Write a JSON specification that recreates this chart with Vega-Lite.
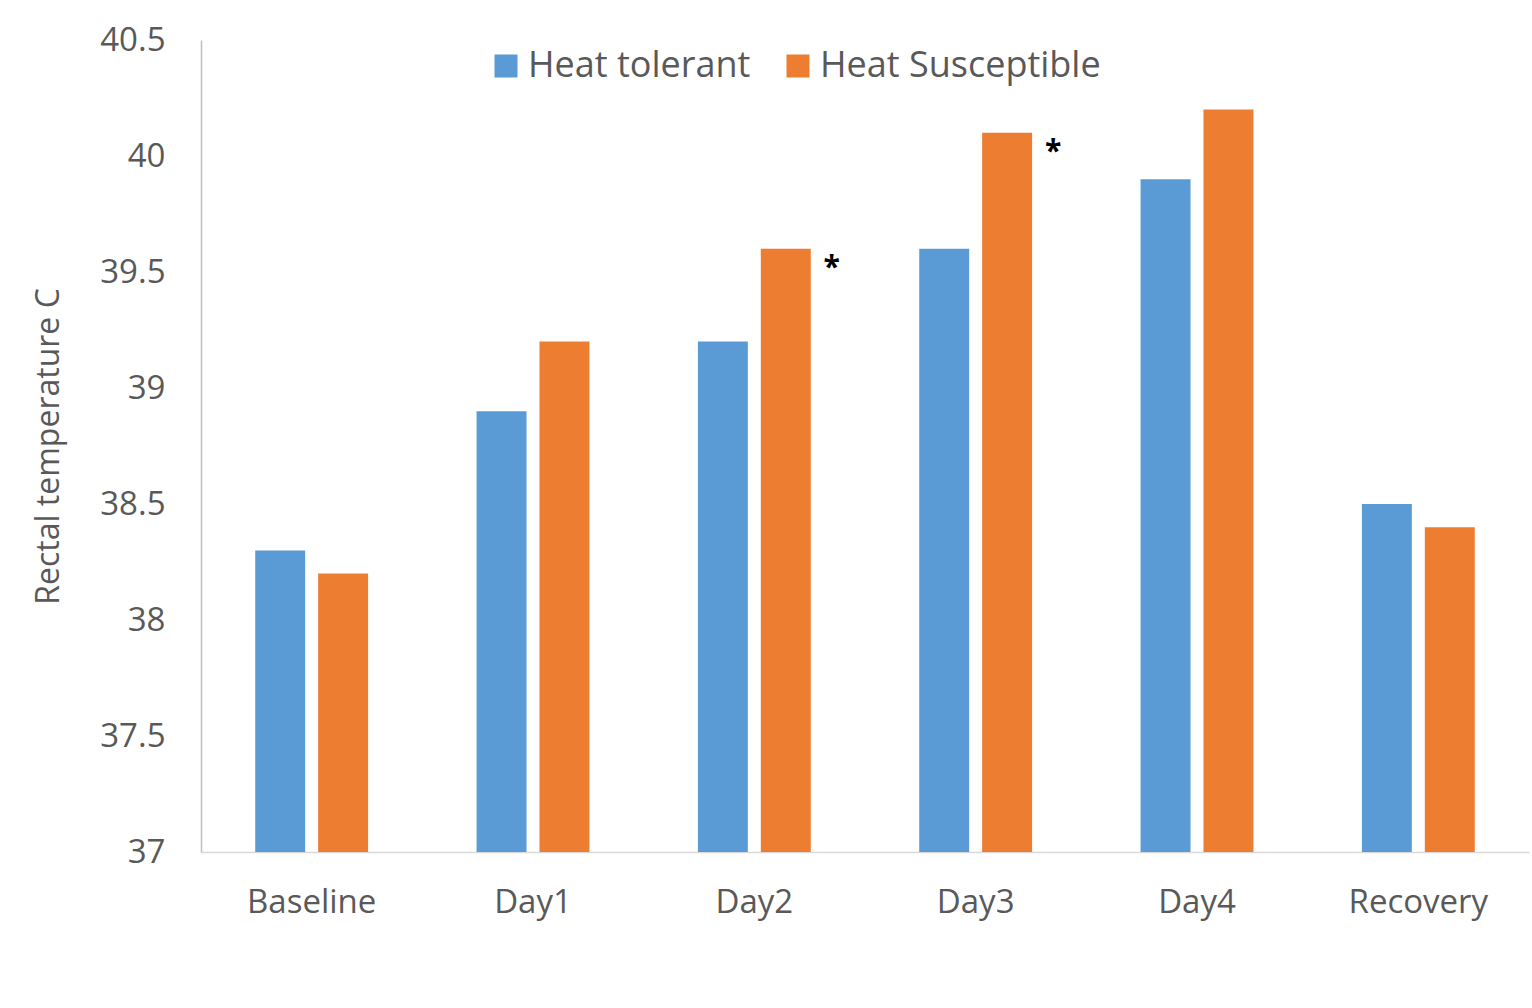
{
  "$schema": "https://vega.github.io/schema/vega-lite/v6.json",
  "width": 1328,
  "height": 812,
  "autosize": {"type": "none"},
  "padding": {"left": 201, "top": 40, "right": 3, "bottom": 156},
  "background": "white",
  "config": {"view": {"stroke": null}, "font": "Open Sans"},
  "data": {
    "values": [
      {"day": "Baseline", "group": "Heat tolerant", "value": 38.3, "sig": ""},
      {"day": "Baseline", "group": "Heat Susceptible", "value": 38.2, "sig": ""},
      {"day": "Day1", "group": "Heat tolerant", "value": 38.9, "sig": ""},
      {"day": "Day1", "group": "Heat Susceptible", "value": 39.2, "sig": ""},
      {"day": "Day2", "group": "Heat tolerant", "value": 39.2, "sig": ""},
      {"day": "Day2", "group": "Heat Susceptible", "value": 39.6, "sig": "*"},
      {"day": "Day3", "group": "Heat tolerant", "value": 39.6, "sig": ""},
      {"day": "Day3", "group": "Heat Susceptible", "value": 40.1, "sig": "*"},
      {"day": "Day4", "group": "Heat tolerant", "value": 39.9, "sig": ""},
      {"day": "Day4", "group": "Heat Susceptible", "value": 40.2, "sig": ""},
      {"day": "Recovery", "group": "Heat tolerant", "value": 38.5, "sig": ""},
      {"day": "Recovery", "group": "Heat Susceptible", "value": 38.4, "sig": ""}
    ]
  },
  "encoding": {
    "x": {
      "field": "day",
      "type": "nominal",
      "sort": ["Baseline", "Day1", "Day2", "Day3", "Day4", "Recovery"],
      "scale": {"paddingInner": 0.49, "paddingOuter": 0.245},
      "axis": {
        "title": null,
        "labelAngle": 0,
        "labelFontSize": 33,
        "labelColor": "#595959",
        "labelPadding": 34,
        "ticks": false,
        "domainColor": "#D9D9D9",
        "domainWidth": 1.5,
        "grid": false
      }
    },
    "xOffset": {
      "field": "group",
      "type": "nominal",
      "sort": ["Heat tolerant", "Heat Susceptible"],
      "scale": {"paddingInner": 0.206}
    },
    "y": {
      "field": "value",
      "type": "quantitative",
      "scale": {"domain": [37, 40.5], "zero": false, "nice": false},
      "axis": {
        "title": "Rectal temperature C",
        "titleFontSize": 32,
        "titleFontWeight": "normal",
        "titleColor": "#595959",
        "titlePadding": 34,
        "values": [37, 37.5, 38, 38.5, 39, 39.5, 40, 40.5],
        "format": "~g",
        "labelFontSize": 33,
        "labelColor": "#595959",
        "labelPadding": 36,
        "ticks": false,
        "grid": false,
        "domainColor": "#BFBFBF",
        "domainWidth": 1.5
      }
    }
  },
  "layer": [
    {
      "mark": {"type": "bar", "clip": true},
      "encoding": {
        "y2": {"datum": 37},
        "color": {
          "field": "group",
          "type": "nominal",
          "sort": ["Heat tolerant", "Heat Susceptible"],
          "scale": {"domain": ["Heat tolerant", "Heat Susceptible"], "range": ["#5B9BD5", "#ED7D31"]},
          "legend": {
            "title": null,
            "orient": "none",
            "legendX": 287,
            "legendY": 8,
            "direction": "horizontal",
            "symbolType": "square",
            "symbolSize": 529,
            "symbolStrokeWidth": 0,
            "symbolOpacity": 1,
            "labelFontSize": 36,
            "labelColor": "#595959",
            "labelOffset": 4,
            "labelLimit": 500,
            "columnPadding": 29
          }
        }
      }
    },
    {
      "transform": [{"filter": "datum.sig != ''"}],
      "mark": {"type": "text", "fontSize": 30, "fontWeight": "bold", "color": "#000000", "dx": 46, "dy": 4, "baseline": "top"},
      "encoding": {"text": {"field": "sig"}}
    }
  ]
}
